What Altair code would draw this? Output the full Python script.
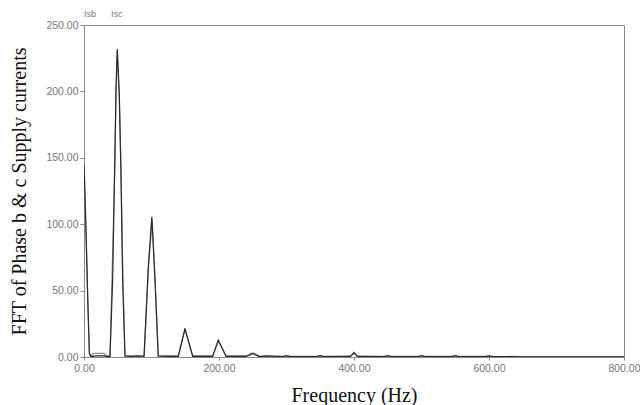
import altair as alt
import pandas as pd

freq = [0, 3, 5.5, 8, 10, 14, 17, 30, 33, 38.5, 42.5, 45.9, 47.4, 49.3, 52.3, 54.8, 57.3, 60.7,
        70, 80, 89, 95.3, 99, 100.5, 102.7, 105, 110, 125, 139.7, 149.6, 161, 175, 190.6, 199,
        210.4, 240, 246, 248, 252, 254, 260, 270, 295, 300, 305, 345, 350, 355, 395, 400, 405,
        445, 450, 455, 495, 500, 505, 545, 550, 555, 595, 600, 605, 650, 800]

isc = [145, 95, 45, 3, 0.5, 0.5, 0.8, 0.8, 0.5, 0.5, 59, 156, 203, 232, 198, 137, 57, 0.8,
       0.5, 0.8, 0.5, 68, 95, 105.6, 83, 60, 0.8, 0.5, 0.5, 21.6, 0.5, 0.5, 0.5, 12.8,
       0.5, 0.5, 1.5, 2.3, 2.3, 1.5, 0.3, 0.8, 0.3, 1.0, 0.3, 0.3, 1.0, 0.3, 0.5, 3.5, 0.5,
       0.3, 1.0, 0.3, 0.3, 1.0, 0.3, 0.3, 1.0, 0.3, 0.3, 0.8, 0.3, 0.2, 0.2]

isb = [150, 93, 43, 2, 0.8, 2.5, 2.8, 2.8, 0.8, 0.8, 80, 148, 196, 229, 195, 141, 68, 0.5,
       0.8, 0.5, 0.8, 66, 90, 104, 86, 62, 0.5, 0.8, 0.8, 20.5, 0.8, 0.8, 0.8, 12.0,
       0.8, 0.8, 2.5, 3.0, 3.0, 2.5, 0.5, 0.5, 0.5, 0.8, 0.5, 0.5, 0.8, 0.5, 0.8, 2.5, 0.8,
       0.5, 0.8, 0.5, 0.5, 0.8, 0.5, 0.5, 0.8, 0.5, 0.5, 0.6, 0.5, 0.3, 0.3]

series_names = ["Isb", "Isc"]
series_colors = ["#8c8c8c", "#2a2a2a"]

df = pd.concat([
    pd.DataFrame({"freq": freq, "value": isb, "series": "Isb"}),
    pd.DataFrame({"freq": freq, "value": isc, "series": "Isc"}),
])

chart = alt.Chart(df).mark_line(strokeWidth=1.2, clip=True).encode(
    x=alt.X("freq:Q",
            scale=alt.Scale(domain=[0, 800], nice=False, zero=True),
            axis=alt.Axis(title="Frequency (Hz)", values=[0, 200, 400, 600, 800], format=".2f",
                          titleFont="Liberation Serif", titleFontSize=20, titleFontWeight="normal",
                          titleColor="#111", titlePadding=12,
                          labelFont="Liberation Sans", labelFontSize=10.5, labelColor="#777",
                          labelFlush=False,
                          domainColor="#888", tickColor="#888", tickSize=3, grid=False,
                          labelPadding=3)),
    y=alt.Y("value:Q",
            scale=alt.Scale(domain=[0, 250], nice=False),
            axis=alt.Axis(title="FFT of Phase b & c Supply currents", values=[0, 50, 100, 150, 200, 250],
                          format=".2f",
                          titleFont="Liberation Serif", titleFontSize=20, titleFontWeight="normal",
                          titleColor="#111", titlePadding=16,
                          labelFont="Liberation Sans", labelFontSize=10.5, labelColor="#777",
                          labelFlush=False,
                          domainColor="#888", tickColor="#888", tickSize=4, grid=False,
                          labelPadding=2)),
    color=alt.Color("series:N",
                    scale=alt.Scale(domain=series_names, range=series_colors),
                    legend=alt.Legend(title=None, orient="none", legendX=-9, legendY=-16,
                                      direction="horizontal", symbolSize=0, symbolStrokeWidth=0,
                                      labelFont="Liberation Sans", labelFontSize=9,
                                      labelColor="#777", columnPadding=5, labelOffset=0)),
    order=alt.Order("freq:Q"),
).properties(
    width=540,
    height=332,
    autosize=alt.AutoSizeParams(type="none"),
    padding={"left": 84, "top": 25, "right": 16, "bottom": 48},
    background="white",
).configure_view(stroke="#888", strokeWidth=1)

chart.save("out.html", embed_options={"renderer": "svg", "actions": False})
